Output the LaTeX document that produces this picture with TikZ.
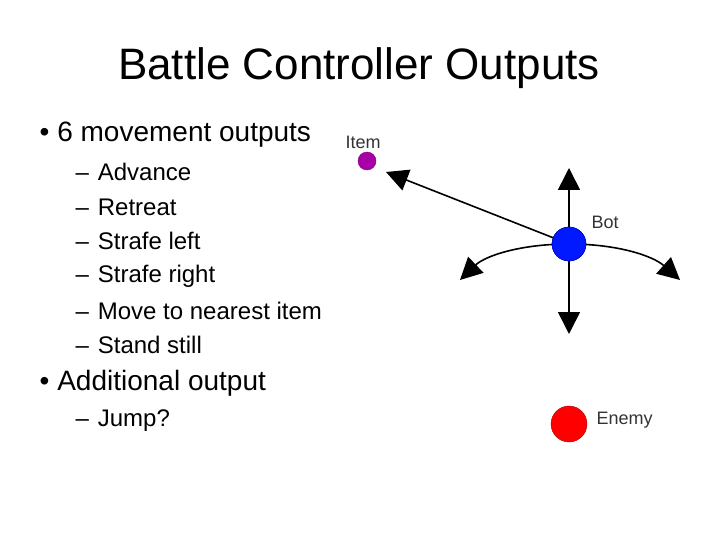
\documentclass[tikz,border=0pt]{standalone}
\usepackage{fontspec}
\setmainfont{Liberation Sans}
\usetikzlibrary{arrows.meta,positioning}
\tikzset{
  bigtip/.style={-{Triangle[width=22pt,length=22pt]}, line width=1.6pt},
  subitem/.style={anchor=west, font=\fontsize{24}{26}\selectfont},
  mainitem/.style={anchor=west, font=\fontsize{28}{30}\selectfont},
  smalllabel/.style={anchor=west, font=\fontsize{18}{20}\selectfont, text=black!80},
}
\begin{document}
\begin{tikzpicture}[x=1pt,y=-1pt]
  \useasboundingbox (0,0) rectangle (720,540);
  \node (title) at (359,68) {\fontsize{44}{48}\selectfont Battle Controller Outputs};

  % bullet list
  \node[mainitem] (moves) at (36,135) {\textbullet\hspace{8pt}6 movement outputs};
  \foreach \y/\t [count=\i] in {172/Advance,207/Retreat,241/Strafe left,276/Strafe right,311/Move to nearest item,345/Stand still}
    \node[subitem] (sub\i) at (72,\y) {--\hspace{9pt}\t};
  \node[mainitem] (extra) at (36,383) {\textbullet\hspace{8pt}Additional output};
  \node[subitem] (jump) at (72,421) {--\hspace{9pt}Jump?};

  % diagram
  \node[circle, fill=violet!70!magenta, draw=violet, inner sep=0pt, minimum size=18pt] (item) at (367,161) {};
  \node[smalllabel] (itemlbl) at (342,142) {Item};
  \node[circle, fill=blue!90!cyan, draw=blue!70!black, inner sep=0pt, minimum size=34pt] (bot) at (569,244) {};
  \node[smalllabel] (botlbl) at (588,222) {Bot};
  \node[circle, fill=red, draw=red!70!black, inner sep=0pt, minimum size=36pt] (enemy) at (569,424) {};
  \node[smalllabel] (enemylbl) at (593,420) {Enemy};

  \coordinate (toitem) at (386,172);
  \coordinate (up) at (569,168);
  \coordinate (down) at (569,334);
  \coordinate (left) at (460,280);
  \coordinate (right) at (680,280);

  \draw[bigtip] (bot.center) -- (toitem);
  \draw[bigtip] (bot.center) -- (up);
  \draw[bigtip] (bot.center) -- (down);
  \draw[bigtip] (bot.center) .. controls (520,244) and (485,256) .. (left);
  \draw[bigtip] (bot.center) .. controls (618,244) and (653,256) .. (right);
  \node[circle, fill=blue!90!cyan, draw=blue!70!black, inner sep=0pt, minimum size=34pt] at (bot) {};
\end{tikzpicture}
\end{document}
